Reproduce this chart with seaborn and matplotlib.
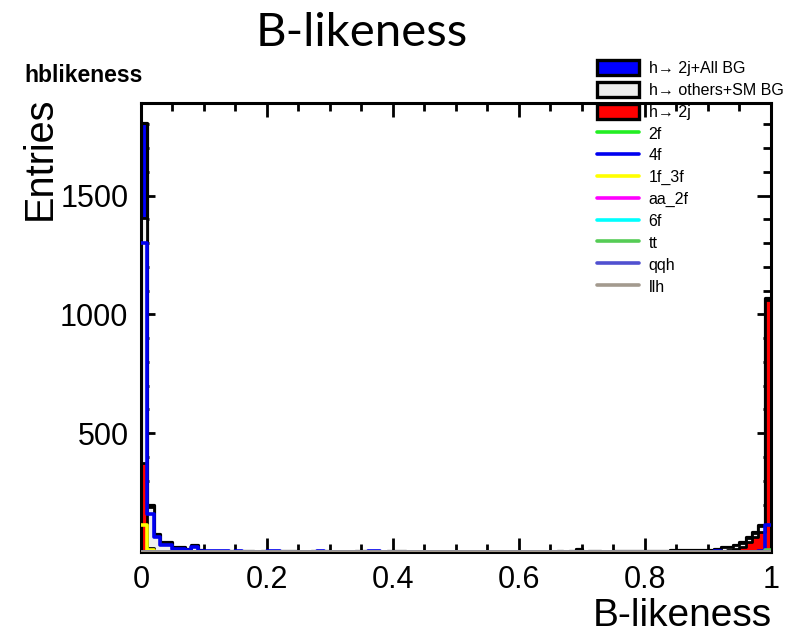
import numpy as np
import seaborn as sns
import matplotlib.pyplot as plt
from matplotlib.patches import Patch
from matplotlib.lines import Line2D
from matplotlib.ticker import MultipleLocator

# 100 bins of B-likeness between 0 and 1
edges = np.linspace(0, 1, 101).tolist()
centers = [(edges[i] + edges[i + 1]) / 2 for i in range(100)]

total = [1805, 198, 77, 42, 42, 21, 21, 13, 30, 8,
         6, 6, 6, 6, 6, 6, 6, 6, 0, 6,
         6, 6, 6, 6, 6, 0, 0, 6, 6, 6,
         0, 0, 0, 0, 6, 6, 6, 6, 0, 6,
         6, 6, 0, 0, 0, 0, 0, 0, 0, 0,
         0, 0, 0, 0, 0, 0, 0, 0, 0, 0,
         0, 0, 0, 0, 0, 0, 6, 0, 6, 12,
         0, 6, 6, 0, 0, 6, 6, 6, 6, 6,
         6, 6, 6, 6, 8, 8, 8, 8, 8, 8,
         10, 14, 21, 21, 31, 42, 63, 84, 113, 1070]

others_bg = [1405, 190, 72, 38, 38, 18, 18, 11, 27, 6,
             6, 6, 6, 6, 6, 6, 6, 6, 0, 6,
             6, 6, 6, 6, 6, 0, 0, 6, 6, 6,
             0, 0, 0, 0, 6, 6, 6, 6, 0, 6,
             6, 6, 0, 0, 0, 0, 0, 0, 0, 0,
             0, 0, 0, 0, 0, 0, 0, 0, 0, 0,
             0, 0, 0, 0, 0, 0, 6, 0, 6, 12,
             0, 6, 6, 0, 0, 6, 6, 6, 6, 6,
             6, 6, 6, 6, 8, 8, 8, 8, 8, 8,
             10, 13, 20, 20, 29, 40, 60, 81, 110, 1062]

h2j = [375, 15, 3, 0, 0, 0, 0, 0, 0, 0,
       0, 0, 0, 0, 0, 0, 0, 0, 0, 0,
       0, 0, 0, 0, 0, 0, 0, 0, 0, 0,
       0, 0, 0, 0, 0, 0, 0, 0, 0, 0,
       0, 0, 0, 0, 0, 0, 0, 0, 0, 0,
       0, 0, 0, 0, 0, 0, 0, 0, 0, 0,
       0, 0, 0, 0, 0, 0, 0, 0, 0, 0,
       0, 0, 0, 0, 0, 0, 0, 0, 0, 0,
       0, 0, 0, 0, 0, 0, 0, 0, 3, 3,
       5, 5, 5, 8, 14, 21, 42, 63, 84, 1062]

bg_4f = [1300, 160, 63, 30, 30, 13, 13, 8, 20, 5,
         6, 6, 6, 6, 0, 6, 0, 0, 0, 0,
         6, 6, 0, 0, 0, 0, 0, 0, 6, 0,
         0, 0, 0, 0, 0, 0, 6, 6, 0, 0,
         0, 0, 0, 0, 0, 0, 0, 0, 0, 0,
         0, 0, 0, 0, 0, 0, 0, 0, 0, 0,
         0, 0, 0, 0, 0, 0, 0, 0, 0, 0,
         0, 0, 0, 0, 0, 0, 0, 0, 0, 0,
         0, 0, 0, 0, 0, 0, 0, 0, 0, 0,
         0, 3, 0, 0, 0, 0, 0, 0, 3, 113]

bg_1f3f = [115, 8] + [0] * 98
bg_tt = [0] * 99 + [8]
bg_2f = [0] * 100
bg_aa2f = [0] * 100
bg_6f = [0] * 100
bg_qqh = [0] * 100
bg_llh = [0] * 100

line_series = [("2f", bg_2f, "#22ee22"),
               ("4f", bg_4f, "#0000f0"),
               ("1f_3f", bg_1f3f, "#ffff00"),
               ("aa_2f", bg_aa2f, "#ff00ff"),
               ("6f", bg_6f, "#00ffff"),
               ("tt", bg_tt, "#55cc55"),
               ("qqh", bg_qqh, "#5050d0"),
               ("llh", bg_llh, "#a39a8e")]

sns.set_theme(style="white")
plt.rcParams["font.family"] = ["Liberation Sans", "DejaVu Sans"]
plt.rcParams["text.color"] = "black"
plt.rcParams["xtick.labelcolor"] = "black"
plt.rcParams["ytick.labelcolor"] = "black"

fig = plt.figure(figsize=(8.02, 6.37), dpi=100)
ax = fig.add_axes([0.1758, 0.1334, 0.7855, 0.7049])

sns.histplot(x=centers, weights=total, bins=edges, element="step", fill=True,
             color="#0000ff", alpha=1, edgecolor="black", linewidth=2.3, ax=ax)
sns.histplot(x=centers, weights=others_bg, bins=edges, element="step", fill=True,
             color="#efefef", alpha=1, edgecolor="black", linewidth=2.0, ax=ax)
sns.histplot(x=centers, weights=h2j, bins=edges, element="step", fill=True,
             color="#ff0000", alpha=1, edgecolor="black", linewidth=2.0, ax=ax)
for name, vals, col in line_series:
    sns.histplot(x=centers, weights=vals, bins=edges, element="step", fill=False,
                 color=col, linewidth=2.6, zorder=3, ax=ax)

ax.set_xlim(0, 1)
ax.set_ylim(0, 1890)
ax.set_xlabel("")
ax.set_ylabel("")
ax.xaxis.set_minor_locator(MultipleLocator(0.05))
ax.yaxis.set_minor_locator(MultipleLocator(100))
ax.set_xticks([0, 0.2, 0.4, 0.6, 0.8, 1.0])
ax.set_xticklabels(["0", "0.2", "0.4", "0.6", "0.8", "1"])
ax.set_yticks([500, 1000, 1500])
ax.set_yticklabels(["500", "1000", "1500"])
ax.tick_params(which="both", direction="in", top=True, right=True,
               bottom=True, left=True, color="black", width=2.0)
ax.tick_params(which="major", length=10, labelsize=22, pad=9)
ax.tick_params(which="minor", length=5.5)
for sp in ax.spines.values():
    sp.set_color("black")
    sp.set_linewidth(2.2)

fig.text(0.451, 0.948, "B-likeness", family=["Lato", "DejaVu Sans"],
         fontsize=34, ha="center", va="center")
fig.text(0.031, 0.882, "hblikeness", fontsize=16.5, fontweight="bold",
         ha="left", va="center")
fig.text(0.05, 0.752, "Entries", fontsize=28.5, rotation=90, ha="center", va="center")
fig.text(0.962, 0.004, "B-likeness", fontsize=28, ha="right", va="bottom")

handles = [Patch(facecolor="#0000ff", edgecolor="black", linewidth=2.4),
           Patch(facecolor="#efefef", edgecolor="black", linewidth=2.4),
           Patch(facecolor="#ff0000", edgecolor="black", linewidth=2.4)]
labels = ["h\u2192 2j+All BG", "h\u2192 others+SM BG", "h\u2192 2j"]
for name, vals, col in line_series:
    handles.append(Line2D([], [], color=col, linewidth=2.6))
    labels.append(name)
fig.legend(handles, labels, loc="upper left", bbox_to_anchor=(0.745, 0.906),
           frameon=False, fontsize=11.5, handlelength=2.6, handleheight=1.1,
           handletextpad=0.6, labelspacing=0.36, borderpad=0, borderaxespad=0)

fig.savefig("out.png", dpi=100)
